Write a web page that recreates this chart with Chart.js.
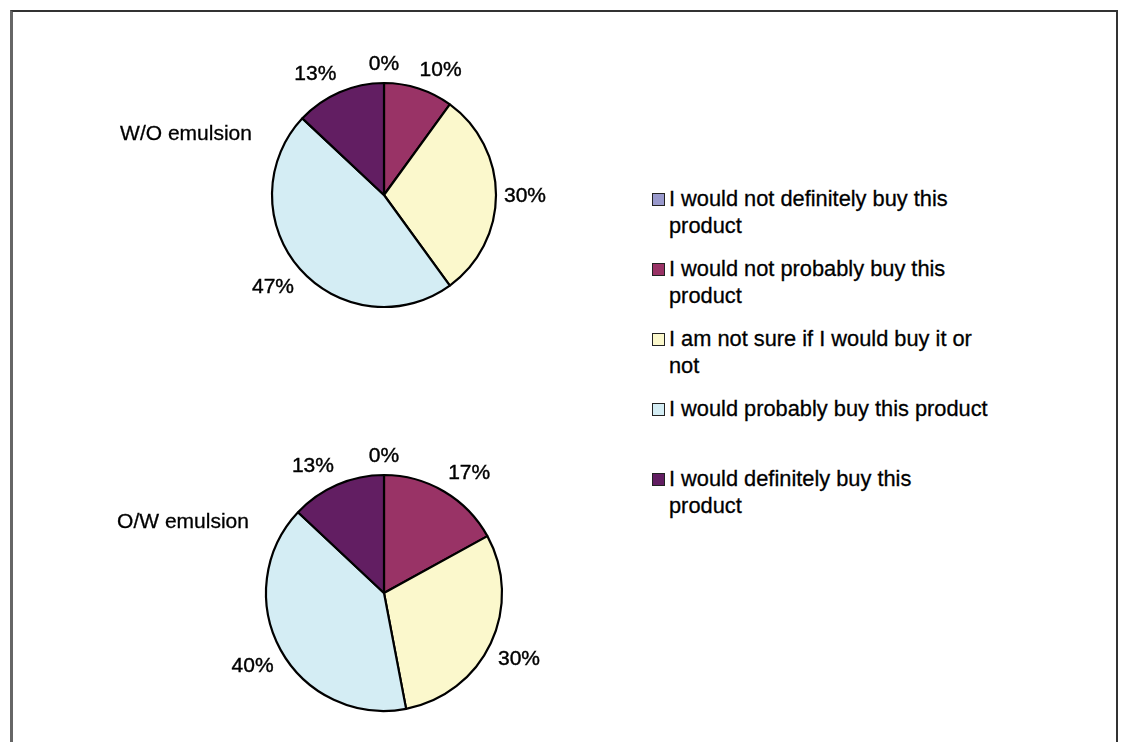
<!DOCTYPE html>
<html>
<head>
<meta charset="utf-8">
<script src="https://cdn.jsdelivr.net/npm/chart.js@4.4.1/dist/chart.umd.min.js"></script>
<style>
  html, body { margin: 0; padding: 0; background: #fff; width: 1124px; height: 742px; overflow: hidden; }
  body { position: relative; font-family: "Liberation Sans", Arial, sans-serif; color: #000; }
  #frame { position: absolute; left: 10px; top: 10px; width: 1108px; height: 800px;
           border: 2px solid #333; border-left: 3px solid #666; box-sizing: border-box; }
  .cv { position: absolute; }
  .title { position: absolute; font-size: 21px; line-height: 24px; white-space: nowrap; transform: translate(-50%, -50%); -webkit-text-stroke: 0.3px #000; }
  .item { position: absolute; left: 652px; }
  .box { position: absolute; left: 0; top: 8px; width: 11px; height: 11px; border: 1px solid #222; box-sizing: content-box; }
  .txt { position: absolute; left: 17px; top: 0; font-size: 21.8px; line-height: 27px; white-space: nowrap; -webkit-text-stroke: 0.3px #000; }
</style>
</head>
<body>
<div id="frame"></div>
<canvas id="pie1" class="cv" width="380" height="380" style="left:194px;top:5px"></canvas>
<canvas id="pie2" class="cv" width="380" height="380" style="left:194px;top:403px"></canvas>
<div id="titles"></div>
<div id="legend"></div>
<script>
// ---- data ----
const categories = [
  ["I would not definitely buy this", "product"],
  ["I would not probably buy this", "product"],
  ["I am not sure if I would buy it or", "not"],
  ["I would probably buy this product"],
  ["I would definitely buy this", "product"]
];
const woValues = [0, 10, 30, 47, 13];
const owValues = [0, 17, 30, 40, 13];
const chartTitles = ["W/O emulsion", "O/W emulsion"];

// ---- styles ----
const sliceColors = ["#9999cc", "#993366", "#fbf8cc", "#d4edf4", "#621e62"];

const outsideLabels = {
  id: 'outsideLabels',
  afterDatasetsDraw(chart) {
    const ctx = chart.ctx;
    const meta = chart.getDatasetMeta(0);
    const vals = chart.data.datasets[0].data;
    ctx.save();
    ctx.font = '21px "Liberation Sans", Arial, sans-serif';
    ctx.fillStyle = '#000';
    ctx.strokeStyle = '#000';
    ctx.lineWidth = 0.4;
    ctx.textAlign = 'center';
    ctx.textBaseline = 'middle';
    meta.data.forEach((arc, i) => {
      const p = arc.getProps(['x', 'y', 'startAngle', 'endAngle', 'outerRadius'], true);
      const mid = (p.startAngle + p.endAngle) / 2;
      const dx = Math.cos(mid), dy = Math.sin(mid);
      const txt = vals[i] + '%';
      const hw = ctx.measureText(txt).width / 2;
      const hh = 12;
      const R = p.outerRadius + 8;
      const ax = p.x + dx * R, ay = p.y + dy * R;
      const ox = Math.sign(dx) * Math.min(1, 3 * Math.abs(dx)) * hw;
      const oy = Math.sign(dy) * Math.min(1, 3 * Math.abs(dy)) * hh;
      ctx.fillText(txt, ax + ox, ay + oy + 1);
      ctx.strokeText(txt, ax + ox, ay + oy + 1);
    });
    ctx.restore();
  }
};

function makePie(id, values, radius) {
  return new Chart(document.getElementById(id), {
    type: 'pie',
    data: {
      labels: categories,
      datasets: [{
        data: values,
        backgroundColor: sliceColors,
        borderColor: '#000',
        borderWidth: 2.2,
        radius: radius
      }]
    },
    options: {
      responsive: false,
      animation: false,
      layout: { padding: 0 },
      plugins: { legend: { display: false }, tooltip: { enabled: false } }
    },
    plugins: [outsideLabels]
  });
}

makePie('pie1', woValues, 112);
makePie('pie2', owValues, 118);

// titles
const titlePos = [[186, 133], [183, 521]];
const tdiv = document.getElementById('titles');
chartTitles.forEach((t, i) => {
  const d = document.createElement('div');
  d.className = 'title';
  d.textContent = t;
  d.style.left = titlePos[i][0] + 'px';
  d.style.top = titlePos[i][1] + 'px';
  tdiv.appendChild(d);
});

// legend
const leg = document.getElementById('legend');
categories.forEach((lines, i) => {
  const it = document.createElement('div');
  it.className = 'item';
  it.style.top = (184.5 + i * 70.2) + 'px';
  const b = document.createElement('div');
  b.className = 'box';
  b.style.background = sliceColors[i];
  const tx = document.createElement('div');
  tx.className = 'txt';
  tx.innerHTML = lines.join('<br>');
  it.appendChild(b);
  it.appendChild(tx);
  leg.appendChild(it);
});
</script>
</body>
</html>
